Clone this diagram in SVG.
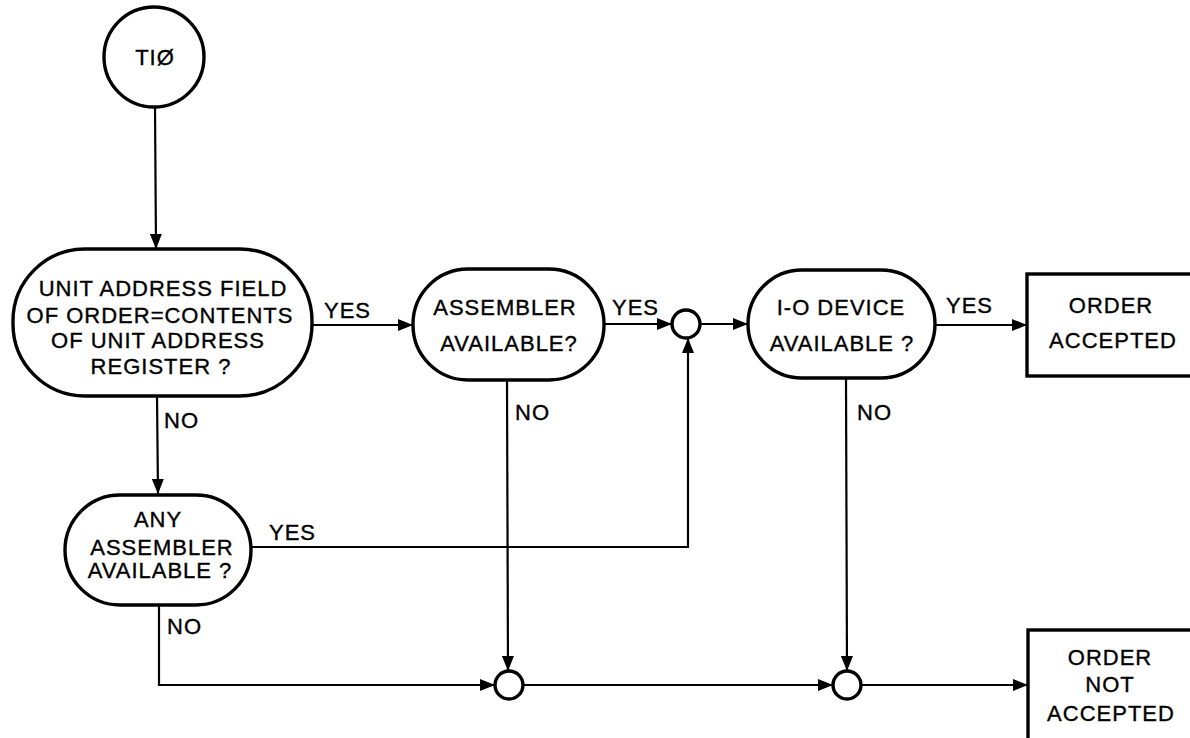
<svg xmlns="http://www.w3.org/2000/svg" width="1190" height="738" viewBox="0 0 1190 738">
<defs>
<marker id="arr" markerUnits="userSpaceOnUse" markerWidth="15" markerHeight="12" refX="15" refY="6" orient="auto">
<path d="M0,0 L15,6 L0,12 z" fill="#000"/>
</marker>
<style>
.node{fill:#fff;stroke:#000;stroke-width:3.4}
.jn{fill:#fff;stroke:#000;stroke-width:3.4}
.t{font-family:"Liberation Sans",Arial,sans-serif;font-size:22px;letter-spacing:1px;text-anchor:middle;fill:#000;stroke:#000;stroke-width:0.35}
.lbl{font-family:"Liberation Sans",Arial,sans-serif;font-size:22px;letter-spacing:1px;fill:#000;stroke:#000;stroke-width:0.35}
.c{fill:none;stroke:#000;stroke-width:2.2;marker-end:url(#arr)}
</style>
</defs>
<rect width="1190" height="738" fill="#fff"/>

<g id="connectors">
<line class="c" x1="155" y1="107" x2="156" y2="249"/>
<line class="c" x1="312" y1="325" x2="413" y2="325"/>
<line class="c" x1="604" y1="324" x2="672" y2="324"/>
<line class="c" x1="700" y1="324" x2="748" y2="324"/>
<line class="c" x1="935" y1="325" x2="1027" y2="325"/>
<line class="c" x1="157" y1="396" x2="158" y2="494"/>
<path class="c" d="M251,547 H688 V338"/>
<line class="c" x1="507" y1="380" x2="508" y2="671"/>
<path class="c" d="M159,605 V685 H495"/>
<line class="c" x1="523" y1="685" x2="833" y2="685"/>
<line class="c" x1="846" y1="378" x2="847" y2="671"/>
<line class="c" x1="861" y1="685" x2="1028" y2="685"/>
<text class="lbl" x="324" y="318">YES</text>
<text class="lbl" x="164" y="428">NO</text>
<text class="lbl" x="612" y="315">YES</text>
<text class="lbl" x="515" y="420">NO</text>
<text class="lbl" x="946" y="313">YES</text>
<text class="lbl" x="857" y="420">NO</text>
<text class="lbl" x="269" y="540">YES</text>
<text class="lbl" x="167" y="634">NO</text>
</g>

<g id="start">
<circle class="node" cx="154" cy="57" r="50"/>
<text class="t" x="155" y="65">TIØ</text>
</g>

<g id="unit-address">
<rect class="node" x="13" y="249" width="299" height="147" rx="72" ry="72"/>
<text class="t" x="163" y="296">UNIT ADDRESS FIELD</text>
<text class="t" x="160" y="323">OF ORDER=CONTENTS</text>
<text class="t" x="158" y="348">OF UNIT ADDRESS</text>
<text class="t" x="161" y="374">REGISTER ?</text>
</g>

<g id="assembler">
<rect class="node" x="413" y="269" width="191" height="111" rx="55" ry="55"/>
<text class="t" x="505" y="315">ASSEMBLER</text>
<text class="t" x="509" y="351">AVAILABLE?</text>
</g>

<g id="junction-a">
<circle class="jn" cx="686" cy="324" r="14"/>
</g>

<g id="io-device">
<rect class="node" x="748" y="270" width="187" height="108" rx="54" ry="54"/>
<text class="t" x="841" y="315">I-O DEVICE</text>
<text class="t" x="842" y="351">AVAILABLE ?</text>
</g>

<g id="order-accepted">
<rect class="node" x="1027" y="274" width="180" height="102"/>
<text class="t" x="1111" y="313">ORDER</text>
<text class="t" x="1113" y="348">ACCEPTED</text>
</g>

<g id="any-assembler">
<rect class="node" x="65" y="495" width="186" height="110" rx="55" ry="55"/>
<text class="t" x="158" y="527">ANY</text>
<text class="t" x="162" y="555">ASSEMBLER</text>
<text class="t" x="160" y="578">AVAILABLE ?</text>
</g>

<g id="junction-b">
<circle class="jn" cx="509" cy="685" r="14"/>
</g>

<g id="junction-c">
<circle class="jn" cx="847" cy="685" r="14"/>
</g>

<g id="order-not-accepted">
<rect class="node" x="1028" y="630" width="180" height="120"/>
<text class="t" x="1110" y="665">ORDER</text>
<text class="t" x="1110" y="692">NOT</text>
<text class="t" x="1111" y="721">ACCEPTED</text>
</g>
</svg>
